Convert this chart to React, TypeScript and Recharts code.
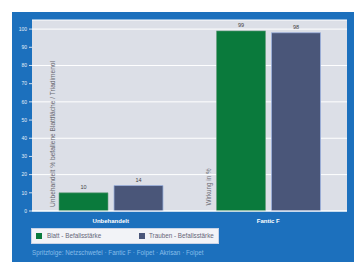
import React from "react";
import { BarChart, Bar, XAxis, YAxis, CartesianGrid, LabelList } from "recharts";

const categories = ["Unbehandelt", "Fantic F"];
const blattValues = [10, 99];
const traubeValues = [14, 98];
const yTicks = [0, 10, 20, 30, 40, 50, 60, 70, 80, 90, 100];
const seriesNames = ["Blatt - Befallsstärke", "Trauben - Befallsstärke"];
const footer = "Spritzfolge: Netzschwefel · Fantic F · Folpet · Akrisan · Folpet";
const leftTitle = "Unbehandelt % befallene Blattfläche / Triadimenol";
const rightTitle = "Wirkung in %";

const data = categories.map((c, i) => ({ name: c, blatt: blattValues[i], traube: traubeValues[i] }));

const GREEN = "#0a7a3c";
const SLATE = "#4a5679";
const FONT = "'Liberation Sans', Arial, sans-serif";

const LegendBox = () => (
  <div
    style={{
      position: "absolute",
      left: 31,
      top: 228,
      width: 188,
      height: 16,
      background: "#f2f3f7",
      border: "1px solid #c9d3e6",
      boxSizing: "border-box",
      fontFamily: FONT,
      fontSize: 6.3,
      color: "#667",
    }}
  >
    <div style={{ position: "absolute", left: 4, top: 3.5, width: 6, height: 6, background: GREEN }} />
    <div style={{ position: "absolute", left: 15, top: 3, whiteSpace: "nowrap", lineHeight: "8px" }}>{seriesNames[0]}</div>
    <div style={{ position: "absolute", left: 107, top: 3.5, width: 6, height: 6, background: SLATE }} />
    <div style={{ position: "absolute", left: 117, top: 3, whiteSpace: "nowrap", lineHeight: "8px" }}>{seriesNames[1]}</div>
  </div>
);

export default function App() {
  return (
    <div style={{ position: "absolute", left: 0, top: 0, width: 354, height: 262, background: "#ffffff", overflow: "hidden" }}>
      <div style={{ position: "absolute", left: 12, top: 12, width: 342, height: 250, background: "#1c70bd" }} />
      <div style={{ position: "absolute", left: 0, top: 0 }}>
        <BarChart
          width={354}
          height={262}
          data={data}
          margin={{ top: 20, right: 7, bottom: 37, left: 12 }}
          barSize={49}
          barGap={6}
        >
          <CartesianGrid vertical={false} fill="#dcdfe7" stroke="#ffffff" strokeWidth={1} />
          <XAxis
            dataKey="name"
            height={14}
            axisLine={{ stroke: "#ffffff" }}
            tickLine={false}
            tick={{ fill: "#ffffff", fontSize: 6, fontWeight: "bold", fontFamily: FONT }}
            tickMargin={2}
          />
          <YAxis
            width={20}
            domain={[0, 105]}
            ticks={yTicks}
            axisLine={false}
            tickLine={{ stroke: "#cfe0f2" }}
            tickSize={3}
            tick={{ fill: "#e6eef8", fontSize: 5, fontFamily: FONT }}
          />
          <Bar dataKey="blatt" name={seriesNames[0]} fill={GREEN} stroke="#6aa07f" strokeWidth={0.6} isAnimationActive={false}>
            <LabelList dataKey="blatt" position="top" offset={4} style={{ fill: "#444", fontSize: 5.5, fontFamily: FONT }} />
          </Bar>
          <Bar dataKey="traube" name={seriesNames[1]} fill={SLATE} stroke="#9db2de" strokeWidth={0.8} isAnimationActive={false}>
            <LabelList dataKey="traube" position="top" offset={4} style={{ fill: "#444", fontSize: 5.5, fontFamily: FONT }} />
          </Bar>
        </BarChart>
      </div>
      <LegendBox />
      <div
        style={{
          position: "absolute",
          left: 52,
          top: 134,
          transform: "translate(-50%, -50%) rotate(-90deg)",
          whiteSpace: "nowrap",
          fontFamily: FONT,
          fontSize: 6.6,
          color: "#6a6a72",
        }}
      >
        {leftTitle}
      </div>
      <div
        style={{
          position: "absolute",
          left: 208,
          top: 187,
          transform: "translate(-50%, -50%) rotate(-90deg)",
          whiteSpace: "nowrap",
          fontFamily: FONT,
          fontSize: 6.3,
          color: "#6a6a72",
        }}
      >
        {rightTitle}
      </div>
      <div
        style={{
          position: "absolute",
          left: 32,
          top: 249,
          whiteSpace: "nowrap",
          fontFamily: FONT,
          fontSize: 6.3,
          color: "#86bde9",
        }}
      >
        {footer}
      </div>
    </div>
  );
}
